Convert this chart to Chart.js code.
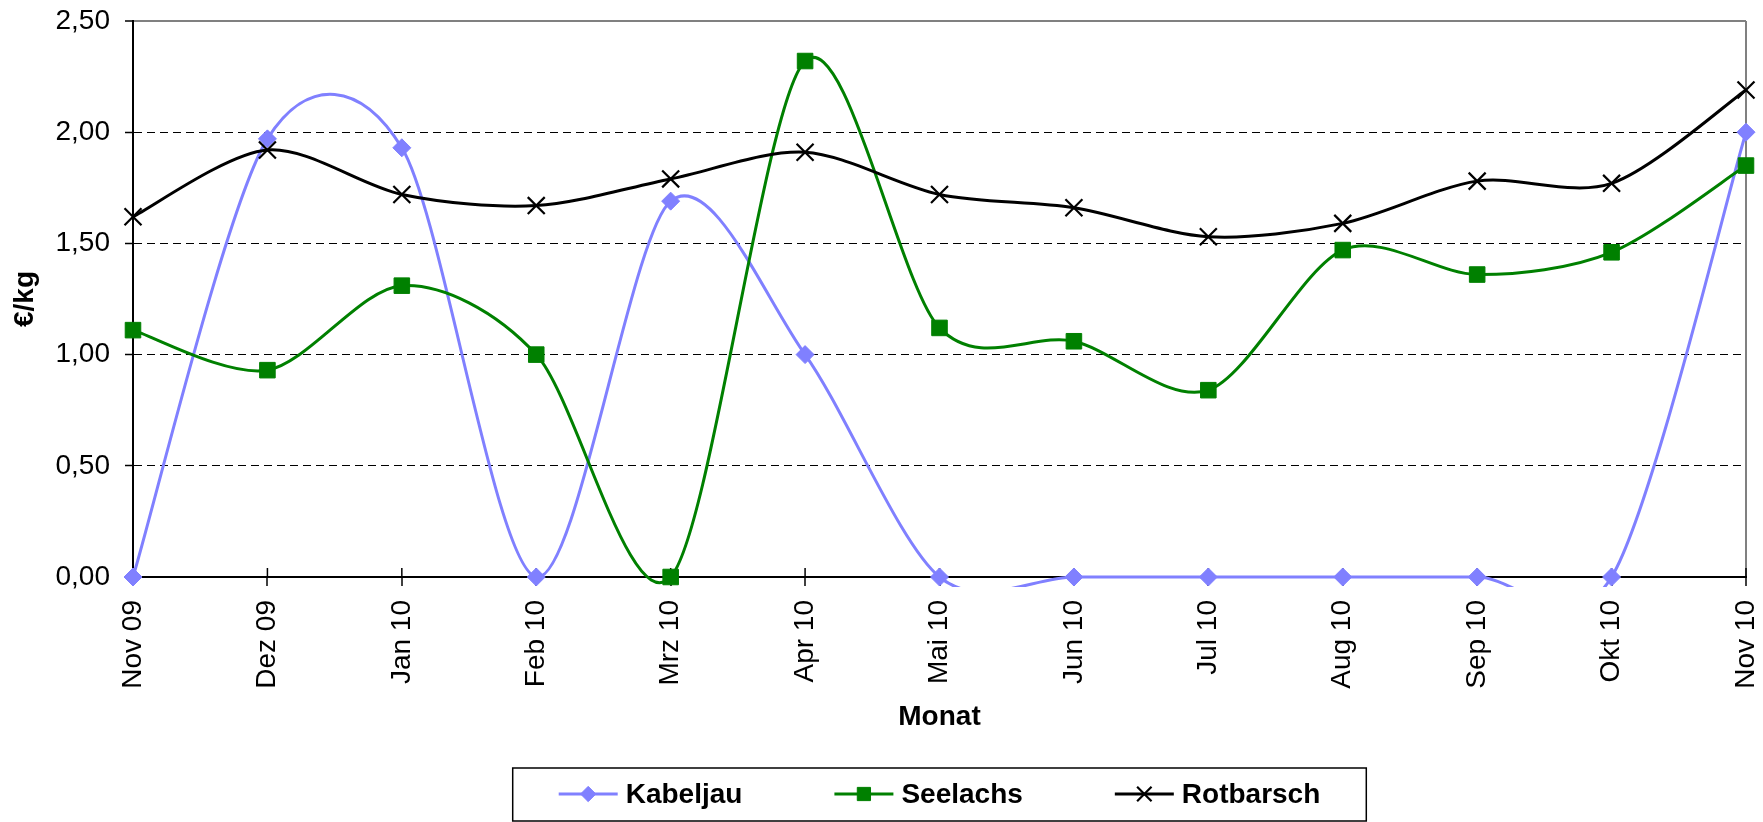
<!DOCTYPE html>
<html>
<head>
<meta charset="utf-8">
<script src="https://cdn.jsdelivr.net/npm/chart.js@4.4.1/dist/chart.umd.min.js"></script>
<style>
    html, body { margin: 0; padding: 0; background: #fff; }
</style>
</head>
<body>
<canvas id="myChart" width="1763" height="822"></canvas>
<script>
// Werte (€/kg)
const monate = ['Nov 09', 'Dez 09', 'Jan 10', 'Feb 10', 'Mrz 10', 'Apr 10', 'Mai 10', 'Jun 10', 'Jul 10', 'Aug 10', 'Sep 10', 'Okt 10', 'Nov 10'];
const kabeljau = [0, 1.97, 1.93, 0, 1.69, 1.00, 0, 0, 0, 0, 0, 0, 2.00];
const seelachs = [1.11, 0.93, 1.31, 1.00, 0, 2.32, 1.12, 1.06, 0.84, 1.47, 1.36, 1.46, 1.85];
const rotbarsch = [1.62, 1.92, 1.72, 1.67, 1.79, 1.91, 1.72, 1.66, 1.53, 1.59, 1.78, 1.77, 2.19];
const yTickLabels = ['0,00', '0,50', '1,00', '1,50', '2,00', '2,50'];

window.onload = main;

function main() {
    Chart.defaults.font.family = '"Liberation Sans", Arial, sans-serif';
    Chart.defaults.color = '#000';
    zeichneChart();
}

// Glättung wie in Excel (Catmull-Rom statt der abstandsgewichteten Chart.js-Kurve)
const excelGlaettung = {
    id: 'excelGlaettung',
    beforeDatasetDraw(chart, args) {
        const meta = args.meta;
        const pts = meta.data;
        const k = 0.15;
        pts.forEach((p, i) => {
            const a = pts[i - 1] || p;
            const b = pts[i + 1] || p;
            p.cp1x = p.x - k * (b.x - a.x);
            p.cp1y = p.y - k * (b.y - a.y);
            p.cp2x = p.x + k * (b.x - a.x);
            p.cp2y = p.y + k * (b.y - a.y);
        });
        meta.dataset._pointsUpdated = true;
    }
};

// kleine Striche oberhalb der x-Achse (Excel zeichnet sie kreuzend)
const innereStriche = {
    id: 'innereStriche',
    beforeDatasetsDraw(chart) {
        const x = chart.scales.x;
        const ctx = chart.ctx;
        ctx.save();
        ctx.strokeStyle = '#000';
        ctx.lineWidth = 1.5;
        x.ticks.forEach((t, i) => {
            const px = x.getPixelForTick(i);
            ctx.beginPath();
            ctx.moveTo(px, x.top);
            ctx.lineTo(px, x.top - 9);
            ctx.stroke();
        });
        ctx.restore();
    }
};

// Legende mit Rahmen wie im Original
const legendeBox = {
    id: 'legendeBox',
    afterDraw(chart) {
        const ctx = chart.ctx;
        const area = chart.chartArea;
        const sets = chart.data.datasets;
        const linie = 59, abstandText = 8, abstandItem = 92, rand = 46;
        const y = chart.height - 28;

        ctx.save();
        ctx.font = 'bold 28px "Liberation Sans", Arial, sans-serif';
        const breiten = sets.map(ds => ctx.measureText(ds.label).width);
        let gesamt = 0;
        breiten.forEach((w, i) => {
            gesamt += linie + abstandText + w + (i < breiten.length - 1 ? abstandItem : 0);
        });
        let x = (area.left + area.right) / 2 - gesamt / 2;

        ctx.strokeStyle = '#000';
        ctx.lineWidth = 1.5;
        ctx.strokeRect(x - rand, y - 26, gesamt + 2 * rand, 53);

        sets.forEach((ds, i) => {
            ctx.strokeStyle = ds.borderColor;
            ctx.lineWidth = ds.borderWidth;
            ctx.beginPath();
            ctx.moveTo(x, y);
            ctx.lineTo(x + linie, y);
            ctx.stroke();

            ctx.fillStyle = ds.pointBackgroundColor;
            ctx.strokeStyle = ds.pointBorderColor;
            ctx.lineWidth = ds.pointBorderWidth;
            Chart.helpers.drawPoint(ctx, {
                pointStyle: ds.pointStyle,
                radius: ds.pointRadius * 0.85,
                borderWidth: ds.pointBorderWidth,
                rotation: 0
            }, x + linie / 2, y);

            ctx.fillStyle = '#000';
            ctx.textAlign = 'left';
            ctx.textBaseline = 'middle';
            ctx.fillText(ds.label, x + linie + abstandText, y + 1);
            x += linie + abstandText + breiten[i] + abstandItem;
        });
        ctx.restore();
    }
};

function zeichneChart() {
    const ctx = document.getElementById('myChart').getContext('2d');
    // Excel schneidet knapp unter der Achse ab
    const rahmen = { left: 20, top: 20, right: 20, bottom: 10 };
    const myChart = new Chart(ctx, {
        type: 'line',
        data: {
            labels: monate,
            datasets: [{
                label: 'Kabeljau',
                data: kabeljau,
                borderColor: '#8080FF',
                backgroundColor: '#8080FF',
                pointBackgroundColor: '#8080FF',
                pointBorderColor: '#8080FF',
                pointStyle: 'rectRot',
                pointRadius: 9,
                pointBorderWidth: 1,
                borderWidth: 3,
                clip: rahmen,
                order: 3
            }, {
                label: 'Seelachs',
                data: seelachs,
                borderColor: '#008000',
                backgroundColor: '#008000',
                pointBackgroundColor: '#008000',
                pointBorderColor: '#008000',
                pointStyle: 'rect',
                pointRadius: 11,
                pointBorderWidth: 1,
                borderWidth: 3,
                clip: rahmen,
                order: 2
            }, {
                label: 'Rotbarsch',
                data: rotbarsch,
                borderColor: '#000000',
                backgroundColor: '#000000',
                pointBackgroundColor: '#000000',
                pointBorderColor: '#000000',
                pointStyle: 'crossRot',
                pointRadius: 12,
                pointBorderWidth: 2.2,
                borderWidth: 3,
                clip: rahmen,
                order: 1
            }]
        },
        options: {
            responsive: false,
            animation: false,
            layout: {
                padding: { top: 21, right: 17, bottom: 87, left: 0 }
            },
            elements: {
                line: { tension: 0.5, fill: false }
            },
            plugins: {
                legend: { display: false },
                tooltip: { enabled: false }
            },
            scales: {
                x: {
                    offset: false,
                    afterFit: (scale) => {
                        scale.height = 158;
                        scale.paddingLeft = 0;
                        scale.paddingRight = 0;
                    },
                    grid: {
                        drawOnChartArea: true,
                        color: (c) => c.index === monate.length - 1 ? '#808080' : 'rgba(0,0,0,0)',
                        lineWidth: 2,
                        tickColor: '#000',
                        tickWidth: 1.5,
                        tickLength: 9
                    },
                    border: { display: true, color: '#000', width: 2 },
                    ticks: {
                        autoSkip: false,
                        minRotation: 90,
                        maxRotation: 90,
                        padding: 14,
                        font: { size: 28 }
                    },
                    title: {
                        display: true,
                        text: 'Monat',
                        font: { size: 28, weight: 'bold' },
                        padding: { top: 0, bottom: 1 }
                    }
                },
                y: {
                    min: 0,
                    max: 2.5,
                    afterFit: (scale) => {
                        scale.width = 133;
                        scale.paddingTop = 0;
                        scale.paddingBottom = 0;
                    },
                    grid: {
                        color: (c) => c.index === 0 ? 'rgba(0,0,0,0)' : (c.index === yTickLabels.length - 1 ? '#808080' : '#000'),
                        lineWidth: (c) => c.index === yTickLabels.length - 1 ? 2 : 1,
                        tickColor: '#000',
                        tickWidth: 1.5,
                        tickLength: 8
                    },
                    border: {
                        display: true,
                        color: '#000',
                        width: 2,
                        dash: (c) => c.index === yTickLabels.length - 1 ? [] : [8, 5]
                    },
                    ticks: {
                        stepSize: 0.5,
                        padding: 15,
                        font: { size: 28 },
                        callback: (v, i) => yTickLabels[i]
                    },
                    title: {
                        display: true,
                        text: '€/kg',
                        font: { size: 28, weight: 'bold' },
                        padding: { top: 8, bottom: 0 }
                    }
                }
            }
        },
        plugins: [excelGlaettung, innereStriche, legendeBox]
    });
}
</script>
</body>
</html>
